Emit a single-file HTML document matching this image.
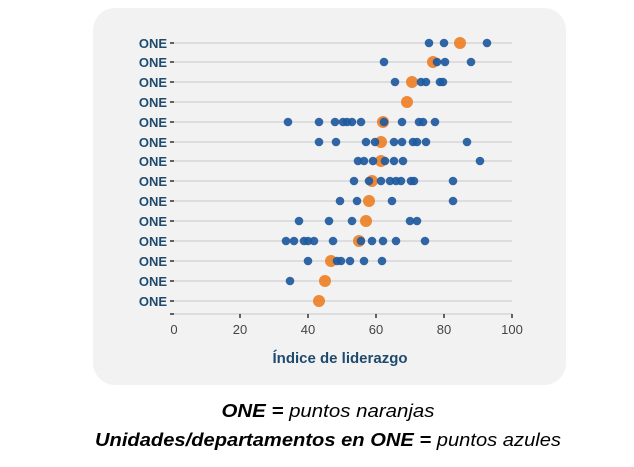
<!DOCTYPE html>
<html><head><meta charset="utf-8"><style>
html,body{margin:0;padding:0;background:#fff;width:634px;height:467px;overflow:hidden}
</style></head><body>
<svg width="634" height="467" viewBox="0 0 634 467" xmlns="http://www.w3.org/2000/svg" font-family="Liberation Sans, sans-serif">
<rect x="93" y="8" width="473" height="377" rx="22" fill="#f2f2f2"/>
<g stroke="#dddddd" stroke-width="2">
<line x1="174" x2="512" y1="43" y2="43"/><line x1="174" x2="512" y1="62" y2="62"/><line x1="174" x2="512" y1="82" y2="82"/><line x1="174" x2="512" y1="102" y2="102"/><line x1="174" x2="512" y1="122" y2="122"/><line x1="174" x2="512" y1="142" y2="142"/><line x1="174" x2="512" y1="161" y2="161"/><line x1="174" x2="512" y1="181" y2="181"/><line x1="174" x2="512" y1="201" y2="201"/><line x1="174" x2="512" y1="221" y2="221"/><line x1="174" x2="512" y1="241" y2="241"/><line x1="174" x2="512" y1="261" y2="261"/><line x1="174" x2="512" y1="281" y2="281"/><line x1="174" x2="512" y1="301" y2="301"/><line x1="174" x2="512" y1="314" y2="314"/>
</g>
<g stroke="#333" stroke-width="1.5">
<line x1="170" x2="174" y1="43" y2="43"/><line x1="170" x2="174" y1="62" y2="62"/><line x1="170" x2="174" y1="82" y2="82"/><line x1="170" x2="174" y1="102" y2="102"/><line x1="170" x2="174" y1="122" y2="122"/><line x1="170" x2="174" y1="142" y2="142"/><line x1="170" x2="174" y1="161" y2="161"/><line x1="170" x2="174" y1="181" y2="181"/><line x1="170" x2="174" y1="201" y2="201"/><line x1="170" x2="174" y1="221" y2="221"/><line x1="170" x2="174" y1="241" y2="241"/><line x1="170" x2="174" y1="261" y2="261"/><line x1="170" x2="174" y1="281" y2="281"/><line x1="170" x2="174" y1="301" y2="301"/><line x1="170" x2="174" y1="314" y2="314"/>
<line x1="240" x2="240" y1="314" y2="318"/><line x1="308" x2="308" y1="314" y2="318"/><line x1="376" x2="376" y1="314" y2="318"/><line x1="444" x2="444" y1="314" y2="318"/><line x1="512" x2="512" y1="314" y2="318"/>
</g>
<g fill="#1f4a6e" font-weight="bold" font-size="13" text-anchor="end">
<text x="167" y="48">ONE</text><text x="167" y="67">ONE</text><text x="167" y="87">ONE</text><text x="167" y="107">ONE</text><text x="167" y="127">ONE</text><text x="167" y="147">ONE</text><text x="167" y="166">ONE</text><text x="167" y="186">ONE</text><text x="167" y="206">ONE</text><text x="167" y="226">ONE</text><text x="167" y="246">ONE</text><text x="167" y="266">ONE</text><text x="167" y="286">ONE</text><text x="167" y="306">ONE</text>
</g>
<g fill="#444" font-size="13" text-anchor="middle">
<text x="174" y="334">0</text><text x="240" y="334">20</text><text x="308" y="334">40</text><text x="376" y="334">60</text><text x="444" y="334">80</text><text x="512" y="334">100</text>
</g>
<text x="340" y="363" fill="#1f4a6e" font-weight="bold" font-size="15" text-anchor="middle">Índice de liderazgo</text>
<g fill="#ec7d22" fill-opacity="0.9">
<circle cx="460" cy="43" r="6"/><circle cx="433" cy="62" r="6"/><circle cx="412" cy="82" r="6"/><circle cx="407" cy="102" r="6"/><circle cx="383" cy="122" r="6"/><circle cx="381" cy="142" r="6"/><circle cx="381" cy="161" r="6"/><circle cx="372" cy="181" r="6"/><circle cx="369" cy="201" r="6"/><circle cx="366" cy="221" r="6"/><circle cx="359" cy="241" r="6"/><circle cx="331" cy="261" r="6"/><circle cx="325" cy="281" r="6"/><circle cx="319" cy="301" r="6"/>
</g>
<g fill="#1f5a9e" fill-opacity="0.92">
<circle cx="429" cy="43" r="4.3"/><circle cx="444" cy="43" r="4.3"/><circle cx="487" cy="43" r="4.3"/>
<circle cx="384" cy="62" r="4.3"/><circle cx="437" cy="62" r="4.3"/><circle cx="445" cy="62" r="4.3"/><circle cx="471" cy="62" r="4.3"/>
<circle cx="395" cy="82" r="4.3"/><circle cx="421" cy="82" r="4.3"/><circle cx="426" cy="82" r="4.3"/><circle cx="440" cy="82" r="4.3"/><circle cx="443" cy="82" r="4.3"/>
<circle cx="288" cy="122" r="4.3"/><circle cx="319" cy="122" r="4.3"/><circle cx="335" cy="122" r="4.3"/><circle cx="343" cy="122" r="4.3"/><circle cx="347" cy="122" r="4.3"/><circle cx="352" cy="122" r="4.3"/><circle cx="361" cy="122" r="4.3"/><circle cx="384" cy="122" r="4.3"/><circle cx="402" cy="122" r="4.3"/><circle cx="419" cy="122" r="4.3"/><circle cx="423" cy="122" r="4.3"/><circle cx="435" cy="122" r="4.3"/>
<circle cx="319" cy="142" r="4.3"/><circle cx="336" cy="142" r="4.3"/><circle cx="366" cy="142" r="4.3"/><circle cx="375" cy="142" r="4.3"/><circle cx="394" cy="142" r="4.3"/><circle cx="402" cy="142" r="4.3"/><circle cx="413" cy="142" r="4.3"/><circle cx="417" cy="142" r="4.3"/><circle cx="426" cy="142" r="4.3"/><circle cx="467" cy="142" r="4.3"/>
<circle cx="358" cy="161" r="4.3"/><circle cx="364" cy="161" r="4.3"/><circle cx="373" cy="161" r="4.3"/><circle cx="385" cy="161" r="4.3"/><circle cx="394" cy="161" r="4.3"/><circle cx="403" cy="161" r="4.3"/><circle cx="480" cy="161" r="4.3"/>
<circle cx="354" cy="181" r="4.3"/><circle cx="369" cy="181" r="4.3"/><circle cx="381" cy="181" r="4.3"/><circle cx="390" cy="181" r="4.3"/><circle cx="396" cy="181" r="4.3"/><circle cx="401" cy="181" r="4.3"/><circle cx="411" cy="181" r="4.3"/><circle cx="414" cy="181" r="4.3"/><circle cx="453" cy="181" r="4.3"/>
<circle cx="340" cy="201" r="4.3"/><circle cx="357" cy="201" r="4.3"/><circle cx="392" cy="201" r="4.3"/><circle cx="453" cy="201" r="4.3"/>
<circle cx="299" cy="221" r="4.3"/><circle cx="329" cy="221" r="4.3"/><circle cx="352" cy="221" r="4.3"/><circle cx="410" cy="221" r="4.3"/><circle cx="417" cy="221" r="4.3"/>
<circle cx="286" cy="241" r="4.3"/><circle cx="294" cy="241" r="4.3"/><circle cx="304" cy="241" r="4.3"/><circle cx="308" cy="241" r="4.3"/><circle cx="314" cy="241" r="4.3"/><circle cx="333" cy="241" r="4.3"/><circle cx="361" cy="241" r="4.3"/><circle cx="372" cy="241" r="4.3"/><circle cx="383" cy="241" r="4.3"/><circle cx="396" cy="241" r="4.3"/><circle cx="425" cy="241" r="4.3"/>
<circle cx="308" cy="261" r="4.3"/><circle cx="337" cy="261" r="4.3"/><circle cx="341" cy="261" r="4.3"/><circle cx="350" cy="261" r="4.3"/><circle cx="364" cy="261" r="4.3"/><circle cx="382" cy="261" r="4.3"/>
<circle cx="290" cy="281" r="4.3"/>
</g>
<g font-style="italic" font-size="18" fill="#000" text-anchor="middle">
<text x="328" y="417" textLength="213" lengthAdjust="spacingAndGlyphs"><tspan font-weight="bold">ONE =</tspan> puntos naranjas</text>
<text x="328" y="446" textLength="466" lengthAdjust="spacingAndGlyphs"><tspan font-weight="bold">Unidades/departamentos en ONE =</tspan> puntos azules</text>
</g>
</svg>
</body></html>
